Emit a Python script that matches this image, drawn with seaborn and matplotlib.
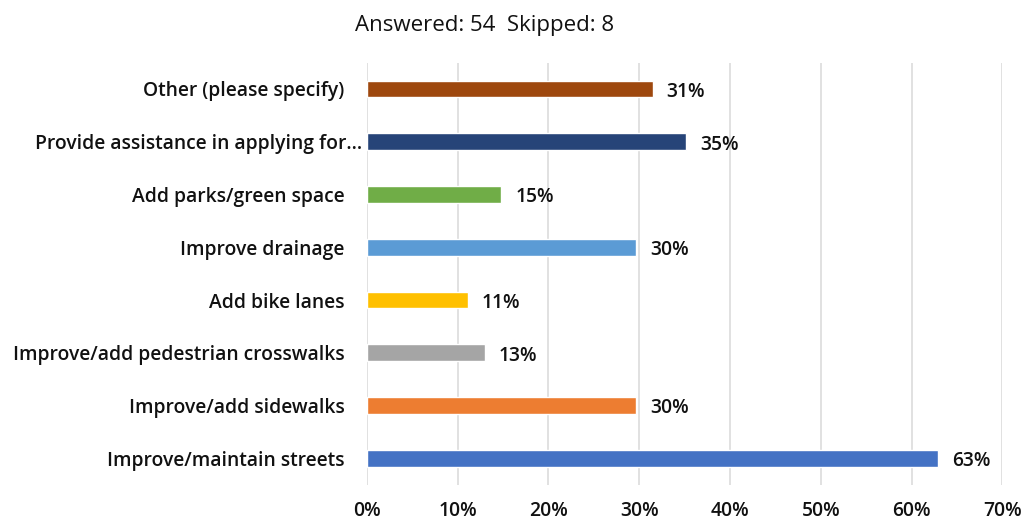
import matplotlib
matplotlib.use("Agg")
import matplotlib.pyplot as plt
import matplotlib.transforms as mtransforms
import seaborn as sns
import pandas as pd

# Survey answers (share of respondents, %)
categories = [
    "Other (please specify)",
    "Provide assistance in applying for…",
    "Add parks/green space",
    "Improve drainage",
    "Add bike lanes",
    "Improve/add pedestrian crosswalks",
    "Improve/add sidewalks",
    "Improve/maintain streets",
]
shares = [31.48, 35.19, 14.81, 29.63, 11.11, 12.96, 29.63, 62.96]
bar_colors = ["#9E480E", "#264478", "#70AD47", "#5B9BD5",
              "#FFC000", "#A5A5A5", "#ED7D31", "#4472C4"]
x_ticks = [0, 10, 20, 30, 40, 50, 60, 70]
title_text = "Answered: 54  Skipped: 8"

sns.set_theme(style="white")
plt.rcParams["font.family"] = ["Open Sans", "DejaVu Sans"]

LABEL_SIZE = 13.9
LABEL_WEIGHT = "semibold"

df = pd.DataFrame({"category": categories, "share": shares})

fig = plt.figure(figsize=(10.23, 5.23), dpi=100)
ax = fig.add_axes([0.3587, 0.0732, 0.9798 - 0.3587, 0.8803 - 0.0732])

sns.barplot(data=df, y="category", x="share", hue="category",
            palette=dict(zip(categories, bar_colors)), order=categories,
            width=0.32, saturation=1, legend=False, ax=ax, zorder=3)

ax.set_xlim(0, 70)
ax.set_ylim(len(categories) - 0.5, -0.5)
ax.set_xticks(x_ticks)
ax.set_xticklabels([f"{t}%" for t in x_ticks], fontsize=LABEL_SIZE,
                   fontweight=LABEL_WEIGHT, color="#111111")
ax.tick_params(axis="x", length=0, pad=11.5)
ax.tick_params(axis="y", length=0, pad=16)
for lbl in ax.get_yticklabels():
    lbl.set_fontsize(LABEL_SIZE)
    lbl.set_fontweight(LABEL_WEIGHT)
    lbl.set_color("#111111")
ax.set_xlabel("")
ax.set_ylabel("")
ax.grid(axis="x", color="#D9D9D9", linewidth=1.1, zorder=0)
ax.grid(axis="y", visible=False)
for s in ax.spines.values():
    s.set_visible(False)

# Value labels at the end of each bar
for i, v in enumerate(shares):
    ax.annotate(f"{v:.0f}%", xy=(v, i), xytext=(10, -2), textcoords="offset points",
                ha="left", va="center", fontsize=LABEL_SIZE, fontweight=LABEL_WEIGHT,
                color="#111111")

# The truncated label sits a little further right
long_lbl = ax.get_yticklabels()[1]
long_lbl.set_transform(long_lbl.get_transform() +
                       mtransforms.ScaledTranslation(17 / 100, 0, fig.dpi_scale_trans))

fig.text(0.474, 0.951, title_text, ha="center", va="center", fontsize=16,
         color="#111111")

fig.savefig("out.png", dpi=100)
